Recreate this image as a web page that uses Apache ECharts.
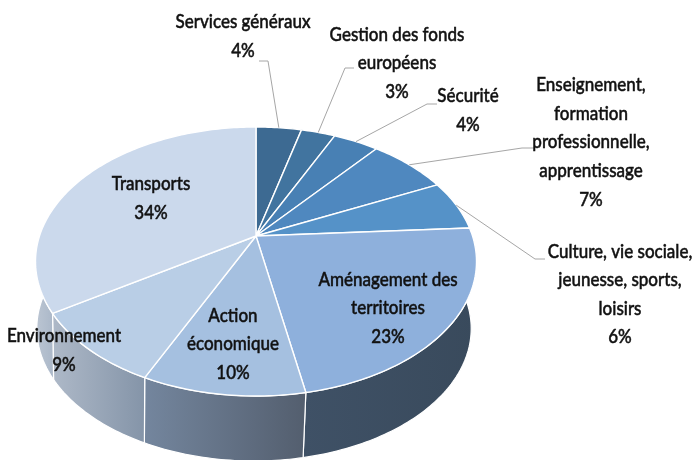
<!DOCTYPE html>
<html><head><meta charset="utf-8">
<style>html,body{margin:0;padding:0;background:#fff}#c{width:694px;height:460px}</style>
<script src="https://cdn.jsdelivr.net/npm/echarts@6/dist/echarts.min.js"></script>
</head><body><div id="c"></div>
<script>
// --- data
const categories = ['Services généraux','Gestion des fonds européens','Sécurité','Enseignement, formation professionnelle, apprentissage','Culture, vie sociale, jeunesse, sports, loisirs','Aménagement des territoires','Action économique','Environnement','Transports'];
const values = [4,3,4,7,6,23,10,9,34];
// --- wrapped text of the labels
const labelLines = ['Services généraux\n4%','Gestion des fonds\neuropéens\n3%','Sécurité\n4%','Enseignement,\nformation\nprofessionnelle,\napprentissage\n7%','Culture, vie sociale,\njeunesse, sports,\nloisirs\n6%','Aménagement des\nterritoires\n23%','Action\néconomique\n10%','Environnement\n9%','Transports\n34%'];
// --- style / layout
const faceColors = ['#3d6a92','#41749f','#4880b4','#4f88bf','#5592c8','#8eb0dc','#a5c0e0','#b9cee6','#cbd9ec'];
const wallColors = [['#3d4f63','#3d4f63'],['#3d4f63','#3d4f63'],['#3d4f63','#3d4f63'],['#3d4f63','#3d4f63'],['#3a4b5e','#3a4b5e'],['#3f5166','#394a5c'],['#74869e','#535e6e'],['#aeb9c8','#8494a8'],['#bcc6d3','#aab7c8']];
const labelCenters = [[243,36],[397,63],[468,110],[591,142],[620,294],[388,308],[233,344],[64,350],[151,198]];
const leaderBends = [[[268,61],[259,61]],[[345,68],[354,68]],[[427,104],[437,104]],[[522,148],[534,148]],[[535,259],[545,259]],null,null,null,null];
// perspective disc: apex, half axes, foreshortening
const apex=[256,236], A=216.5, B=129.7, K=0.1896, DEPTH=67, WALL_SCALE=0.985, WALL_DX=-2, ELL_CY=261;

function project(deg){
  const t=deg*Math.PI/180,u=Math.sin(t),v=-Math.cos(t),w=1-K*v;
  return [apex[0]+A*u/w, apex[1]+B*v/w];
}
function projectLow(deg){
  const p=project(deg);
  return [apex[0]+WALL_DX+(p[0]-apex[0])*WALL_SCALE, ELL_CY+DEPTH+(p[1]-ELL_CY)*WALL_SCALE];
}
const total=values.reduce((a,b)=>a+b,0);
function range(i){
  let s=0; for(let k=0;k<i;k++) s+=values[k];
  return [s/total*360,(s+values[i])/total*360];
}
function arc(fn,a,b){const p=[];const n=Math.max(2,Math.ceil(Math.abs(b-a)));for(let j=0;j<=n;j++)p.push(fn(a+(b-a)*j/n));return p;}

const chart=echarts.init(document.getElementById('c'),null,{renderer:'canvas'});
const idx=values.map((v,i)=>[i,v]);
chart.setOption({
  animation:false,
  backgroundColor:'#fff',
  series:[
   {type:'custom',coordinateSystem:'none',z:1,silent:true,data:idx,
    renderItem(p,api){
      const i=api.value(0);const r=range(i);
      const a=r[0],b=i===8?280:r[1];
      if(b<=60) return {type:'group',children:[]};
      const pts=arc(project,a,b).concat(arc(projectLow,a,b).reverse());
      return {type:'polygon',shape:{points:pts},style:{
        fill:{type:'linear',x:0,y:0,x2:1,y2:0,colorStops:[{offset:0,color:wallColors[i][0]},{offset:1,color:wallColors[i][1]}]},
        stroke:'#fff',lineWidth:1.2}};
    }},
   {type:'custom',coordinateSystem:'none',z:2,silent:true,data:idx,
    renderItem(p,api){
      const i=api.value(0);const r=range(i);
      const pts=[apex].concat(arc(project,r[0],r[1]));
      return {type:'polygon',shape:{points:pts},style:{fill:faceColors[i],stroke:'#fff',lineWidth:1.4,lineJoin:'round'}};
    }},
   {type:'custom',coordinateSystem:'none',z:3,silent:true,data:idx,
    renderItem(p,api){
      const i=api.value(0);const r=range(i);const ch=[];
      if(leaderBends[i]){
        const s=project((r[0]+r[1])/2);
        ch.push({type:'polyline',shape:{points:[s].concat(leaderBends[i])},style:{fill:null,stroke:'#a6a6a6',lineWidth:1}});
      }
      const c=labelCenters[i];
      ch.push({type:'text',x:c[0],y:c[1],scaleX:0.85,scaleY:1,style:{text:labelLines[i],font:'500 20px Lato, "Open Sans", sans-serif',lineHeight:28.6,fill:'#111',stroke:'#111',lineWidth:0.5,align:'center',verticalAlign:'middle'}});
      return {type:'group',children:ch};
    }}
  ]
});
</script></body></html>
